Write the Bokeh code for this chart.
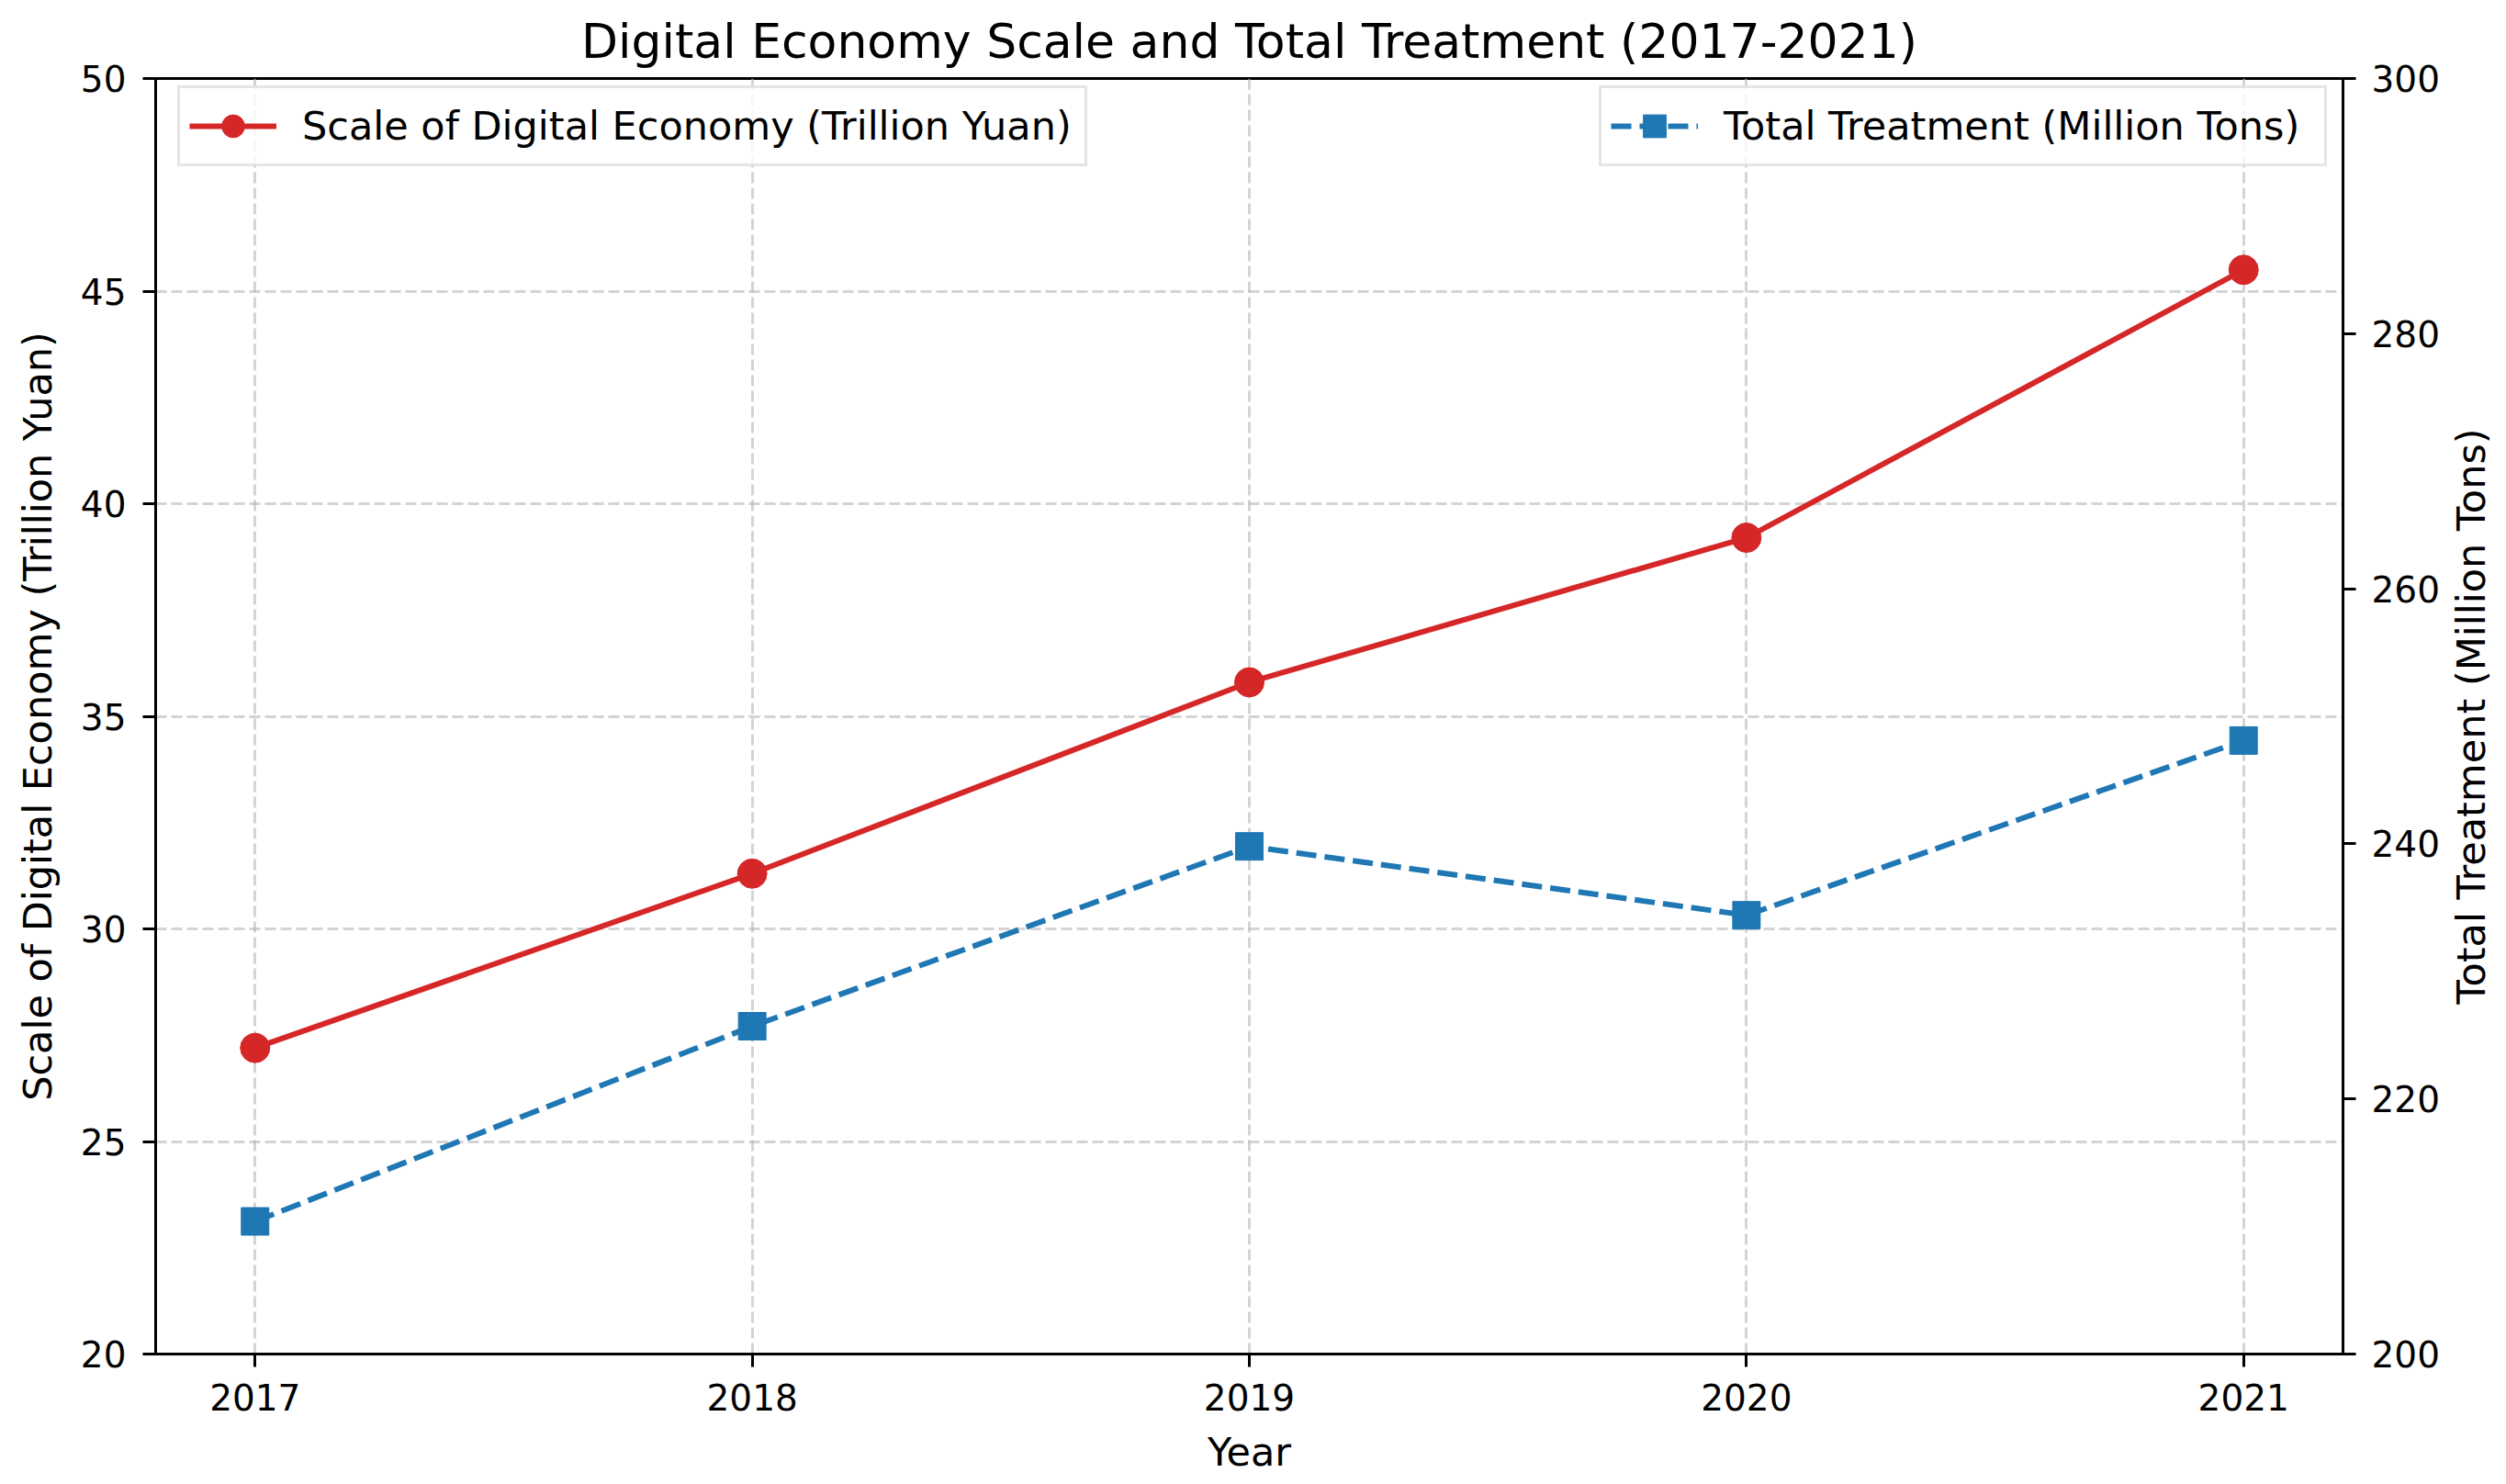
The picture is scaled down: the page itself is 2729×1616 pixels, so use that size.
import math
from bokeh.plotting import figure
from bokeh.layouts import row
from bokeh.models import Range1d, LinearAxis, FixedTicker, Legend, LegendItem, ColumnDataSource, Label
from bokeh.embed import file_html
from bokeh.resources import INLINE

# ---- data ----
years = [2017, 2018, 2019, 2020, 2021]
digital_scale = [27.2, 31.3, 35.8, 39.2, 45.5]          # trillion yuan
total_treatment = [210.4, 225.7, 239.8, 234.4, 248.1]  # million tons
left_ticks = [20, 25, 30, 35, 40, 45, 50]
right_ticks = [200, 220, 240, 260, 280, 300]

title_text = "Digital Economy Scale and Total Treatment (2017-2021)"
label_x = "Year"
label_left = "Scale of Digital Economy (Trillion Yuan)"
label_right = "Total Treatment (Million Tons)"

FONT = "DejaVu Sans"
RED = "#d62728"
BLUE = "#1f77b4"

Y_LEFT = (20, 50)
Y_RIGHT = (200, 300)

W_MAIN, W_SIDE, H = 2666, 60, 1610

src = ColumnDataSource(dict(year=years, scale=digital_scale, treat=total_treatment))

p = figure(width=W_MAIN, height=H, output_backend="svg", toolbar_location=None,
           x_range=Range1d(2016.8, 2021.2), y_range=Range1d(*Y_LEFT),
           min_border_left=169, min_border_right=W_MAIN - 2551, min_border_top=85, min_border_bottom=136)
p.extra_y_ranges = {"treat": Range1d(*Y_RIGHT)}

p.title.text = title_text
p.title.align = "center"
p.title.text_font = FONT
p.title.text_font_size = "52px"
p.title.text_font_style = "normal"
p.title.text_color = "black"
p.title.standoff = 22

p.outline_line_color = "black"
p.outline_line_width = 3

# axes
p.xaxis.ticker = FixedTicker(ticks=years)
p.yaxis.ticker = FixedTicker(ticks=left_ticks)
p.xaxis.axis_label = label_x
p.yaxis.axis_label = label_left

ax2 = LinearAxis(y_range_name="treat", ticker=FixedTicker(ticks=right_ticks))
p.add_layout(ax2, "right")

for ax in [p.xaxis[0], p.yaxis[0], ax2]:
    ax.axis_line_color = "black"
    ax.axis_line_width = 3
    ax.major_tick_line_color = "black"
    ax.major_tick_line_width = 3
    ax.major_tick_out = 14
    ax.major_tick_in = 0
    ax.minor_tick_line_color = None
    ax.major_label_text_font = FONT
    ax.major_label_text_font_size = "39px"
    ax.major_label_text_color = "black"
    ax.major_label_standoff = 18
    ax.axis_label_text_font = FONT
    ax.axis_label_text_font_size = "43px"
    ax.axis_label_text_font_style = "normal"
    ax.axis_label_text_color = "black"

p.xaxis.axis_label_standoff = 17
p.yaxis.axis_label_standoff = 19
ax2.major_label_standoff = 17

# grid
for g in [p.xgrid[0], p.ygrid[0]]:
    g.grid_line_color = "#b0b0b0"
    g.grid_line_alpha = 0.55
    g.grid_line_width = 3
    g.grid_line_dash = "12 5"
p.xgrid.ticker = FixedTicker(ticks=years)
p.ygrid.ticker = FixedTicker(ticks=left_ticks)

# series
r_line = p.line("year", "scale", source=src, line_color=RED, line_width=6)
r_pts = p.scatter("year", "scale", source=src, marker="circle", size=32,
                  fill_color=RED, line_color=RED)
b_line = p.line("year", "treat", source=src, line_color=BLUE, line_width=6,
                line_dash="22 9", y_range_name="treat")
b_pts = p.scatter("year", "treat", source=src, marker="square", size=30,
                  fill_color=BLUE, line_color=BLUE, y_range_name="treat")

def make_legend(items, loc, label_w):
    lg = Legend(items=items, location=loc)
    lg.margin = 0
    lg.padding = 10
    lg.glyph_width = 95
    lg.glyph_height = 62
    lg.label_standoff = 28
    lg.label_width = label_w
    lg.label_text_font = FONT
    lg.label_text_font_size = "43px"
    lg.label_text_color = "black"
    lg.border_line_color = "#cccccc"
    lg.border_line_width = 3
    lg.background_fill_color = "white"
    lg.background_fill_alpha = 0.8
    return lg

p.add_layout(make_legend([LegendItem(label=label_left, renderers=[r_line, r_pts])], (24, 1293), 842))
p.add_layout(make_legend([LegendItem(label=label_right, renderers=[b_line, b_pts])], (1572, 1293), 644))

# narrow side strip carrying the right-axis title (reads bottom-to-top)
p2 = figure(width=W_SIDE, height=H, output_backend="svg", toolbar_location=None,
            x_range=Range1d(0, W_SIDE), y_range=Range1d(0, H),
            x_axis_type=None, y_axis_type=None,
            min_border_left=0, min_border_right=0, min_border_top=0, min_border_bottom=0)
p2.outline_line_color = None
p2.grid.visible = False
p2.add_layout(Label(x=2690 - W_MAIN, y=H - 805, text=label_right,
                    angle=math.pi / 2, angle_units="rad",
                    text_align="center", text_baseline="middle",
                    text_font=FONT, text_font_size="43px", text_color="black"))

open("out.html", "w").write(file_html(row(p, p2), INLINE))
